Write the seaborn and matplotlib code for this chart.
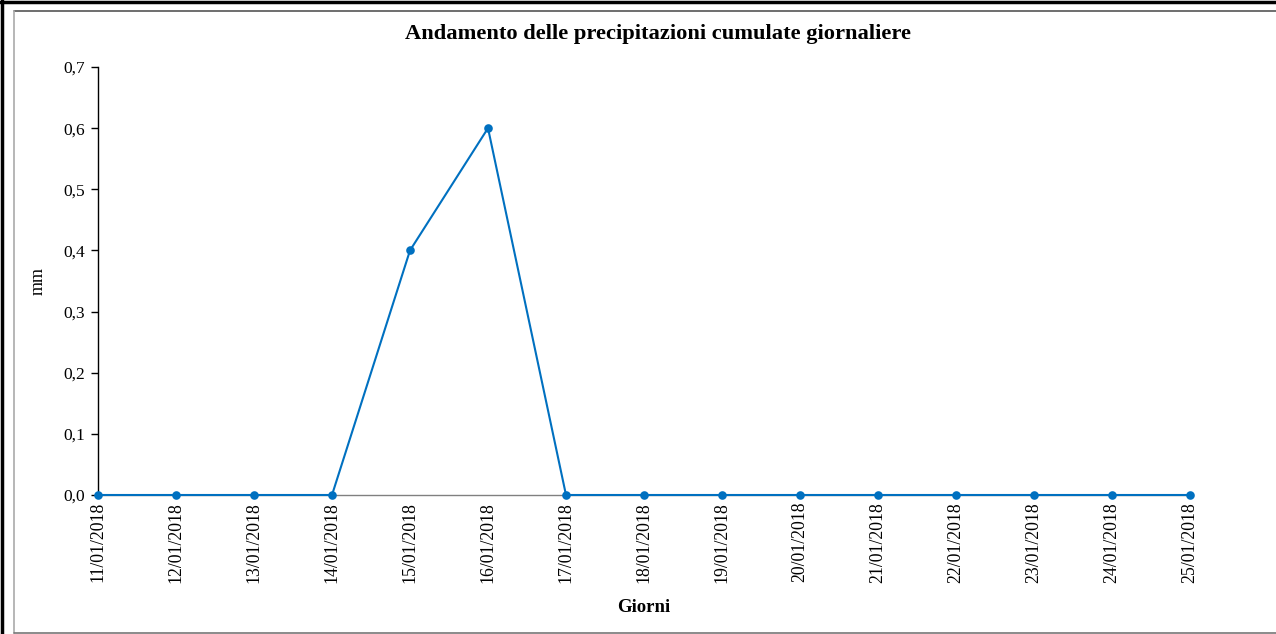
import matplotlib.pyplot as plt
import pandas as pd
import seaborn as sns
from matplotlib.lines import Line2D
from matplotlib.ticker import FuncFormatter


GIORNI = [
    "11/01/2018", "12/01/2018", "13/01/2018", "14/01/2018", "15/01/2018",
    "16/01/2018", "17/01/2018", "18/01/2018", "19/01/2018", "20/01/2018",
    "21/01/2018", "22/01/2018", "23/01/2018", "24/01/2018", "25/01/2018",
]
PRECIPITAZIONI = [0.0, 0.0, 0.0, 0.0, 0.4, 0.6, 0.0, 0.0, 0.0, 0.0, 0.0, 0.0, 0.0, 0.0, 0.0]
Y_TICKS = [0.0, 0.1, 0.2, 0.3, 0.4, 0.5, 0.6, 0.7]

TITLE = "Andamento delle precipitazioni cumulate giornaliere"
LINE_COLOR = "#0070C0"


def main():
    sns.set_theme(style="white")
    plt.rcParams["font.family"] = ["Liberation Serif", "DejaVu Serif"]
    plt.rcParams["text.color"] = "black"
    plt.rcParams["axes.labelcolor"] = "black"
    plt.rcParams["xtick.color"] = "black"
    plt.rcParams["ytick.color"] = "black"

    df = pd.DataFrame({"giorno": GIORNI, "mm": PRECIPITAZIONI})

    fig = plt.figure(figsize=(12.76, 6.34), dpi=100)
    ax = fig.add_axes([98 / 1276, 139 / 634, (1190 - 98) / 1276, (567 - 139) / 634])

    sns.lineplot(
        data=df,
        x="giorno",
        y="mm",
        sort=False,
        color=LINE_COLOR,
        linewidth=1.5,
        marker="o",
        markersize=6.2,
        markeredgewidth=0,
        ax=ax,
        zorder=5,
        clip_on=False,
    )

    ax.set_xlim(0, len(GIORNI) - 1)
    ax.set_ylim(0, 0.7)
    ax.set_yticks(Y_TICKS)
    ax.yaxis.set_major_formatter(FuncFormatter(lambda v, _: f"{v:.1f}".replace(".", ",")))

    for side in ["top", "right"]:
        ax.spines[side].set_visible(False)
    ax.spines["left"].set_color("black")
    ax.spines["left"].set_linewidth(1.0)
    ax.spines["bottom"].set_color("#808080")
    ax.spines["bottom"].set_linewidth(1.0)

    ax.tick_params(axis="y", direction="out", length=5, width=1, color="black",
                   labelsize=12.5, pad=4, left=True)
    ax.tick_params(axis="x", length=0, labelsize=12.8, pad=5, labelrotation=90)
    for label in ax.get_xticklabels():
        label.set_verticalalignment("top")

    ax.set_xlabel("Giorni", fontsize=13.5, fontweight="bold", labelpad=12)
    ax.set_ylabel("mm", fontsize=13, labelpad=12)
    ax.grid(False)

    fig.text(658 / 1276, 1 - 34 / 634, TITLE, ha="center", va="center",
             fontsize=16.2, fontweight="bold")

    # outer frame (black) and inner chart border (gray)
    fig.add_artist(Line2D([0, 1], [1 - 1.5 / 634] * 2, transform=fig.transFigure,
                          color="black", linewidth=2.5))
    fig.add_artist(Line2D([1.5 / 1276] * 2, [0, 1], transform=fig.transFigure,
                          color="black", linewidth=2.5))
    fig.add_artist(Line2D([13.5 / 1276, 1], [1 - 10.5 / 634] * 2, transform=fig.transFigure,
                          color="#555555", linewidth=1.2))
    fig.add_artist(Line2D([13.5 / 1276] * 2, [1.5 / 634, 1 - 10.5 / 634], transform=fig.transFigure,
                          color="#aaaaaa", linewidth=1.2))
    fig.add_artist(Line2D([13.5 / 1276, 1], [1.5 / 634] * 2, transform=fig.transFigure,
                          color="#777777", linewidth=1.2))

    fig.savefig("out.png", dpi=100)


if __name__ == "__main__":
    main()
